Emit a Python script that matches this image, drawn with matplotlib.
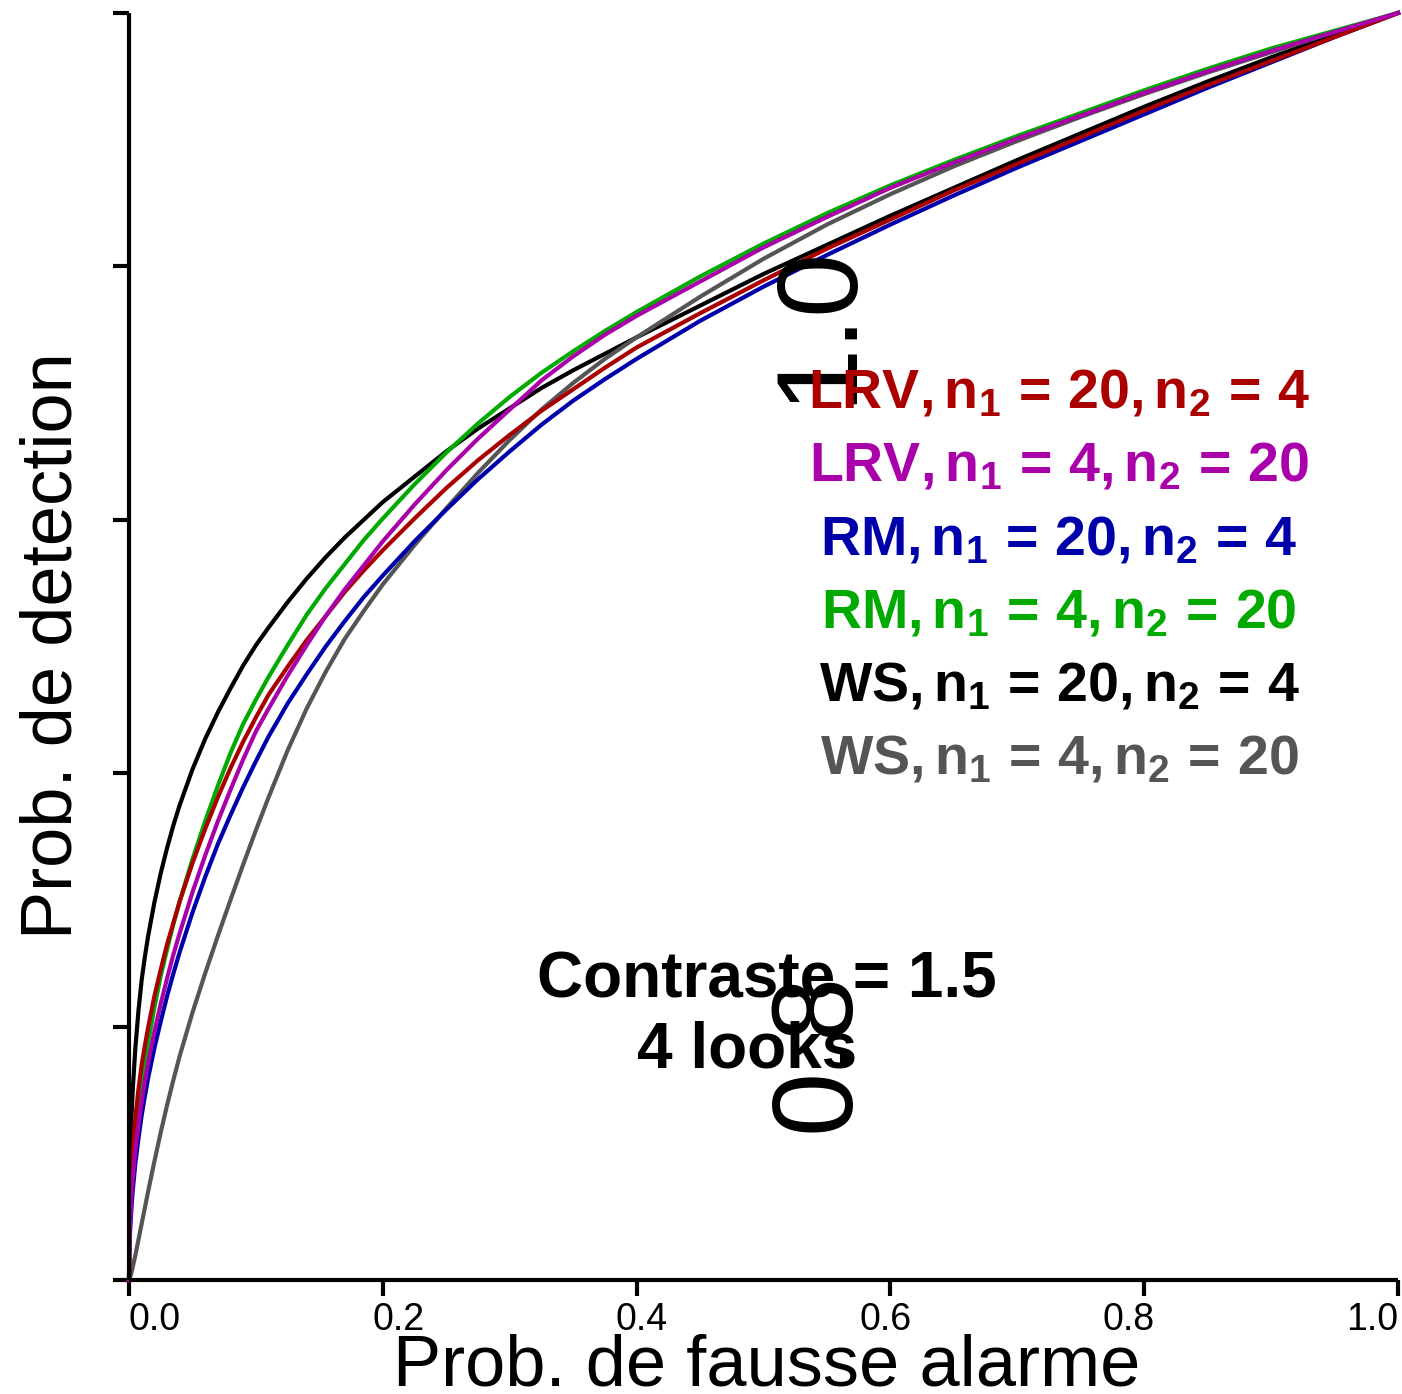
import matplotlib
matplotlib.use("Agg")
import matplotlib.pyplot as plt
from matplotlib.transforms import offset_copy, blended_transform_factory

plt.rcParams['font.family'] = ['Liberation Sans', 'DejaVu Sans']
plt.rcParams['mathtext.fontset'] = 'custom'
plt.rcParams['mathtext.rm'] = 'Liberation Sans'
plt.rcParams['mathtext.bf'] = 'Liberation Sans:bold'
plt.rcParams['mathtext.it'] = 'Liberation Sans:italic'
plt.rcParams['mathtext.default'] = 'bf'

# ------------------------------------------------------------
# Donnees (PFA commune, PD par methode)
# ------------------------------------------------------------
pfa = [0, 0.0005, 0.001, 0.002, 0.003, 0.005, 0.0075, 0.01,
       0.0125, 0.015, 0.02, 0.025, 0.03, 0.035, 0.04,
       0.05, 0.06, 0.07, 0.08, 0.09, 0.1,
       0.11, 0.125, 0.14, 0.155, 0.17, 0.185, 0.2,
       0.225, 0.25, 0.275, 0.3, 0.325, 0.35, 0.375, 0.4,
       0.45, 0.5, 0.55, 0.6, 0.65, 0.7, 0.75, 0.8, 0.85, 0.9, 0.95, 1.0]

pd_ws_20_4 = [0, 0.085, 0.105, 0.130, 0.151, 0.183, 0.213, 0.237,
              0.255, 0.271, 0.298, 0.321, 0.341, 0.359, 0.375,
              0.403, 0.427, 0.448, 0.467, 0.485, 0.501,
              0.515, 0.535, 0.5535, 0.5705, 0.586, 0.600, 0.614,
              0.634, 0.654, 0.672, 0.688, 0.704, 0.718, 0.731, 0.744,
              0.769, 0.794, 0.817, 0.840, 0.862, 0.884, 0.905, 0.926, 0.946, 0.965, 0.983, 1.0]
pd_ws_4_20 = [0, 0.0012, 0.0027, 0.006, 0.0105, 0.0195, 0.032, 0.0445,
              0.057, 0.0695, 0.0935, 0.1165, 0.138, 0.158, 0.177,
              0.211, 0.242, 0.2715, 0.300, 0.328, 0.355,
              0.381, 0.418, 0.451, 0.480, 0.506, 0.528, 0.549,
              0.580, 0.609, 0.637, 0.663, 0.687, 0.708, 0.727, 0.744,
              0.776, 0.806, 0.833, 0.857, 0.879, 0.899, 0.918, 0.936, 0.953, 0.969, 0.985, 1.0]
pd_rm_20_4 = [0, 0.029, 0.041, 0.058, 0.071, 0.092, 0.112, 0.130,
              0.145, 0.159, 0.183, 0.204, 0.224, 0.242, 0.259,
              0.290, 0.318, 0.344, 0.367, 0.389, 0.4095,
              0.429, 0.455, 0.478, 0.500, 0.520, 0.539, 0.556,
              0.583, 0.608, 0.632, 0.654, 0.675, 0.694, 0.711, 0.727,
              0.757, 0.784, 0.809, 0.833, 0.856, 0.878, 0.899, 0.920, 0.941, 0.961, 0.981, 1.0]
pd_rm_4_20 = [0, 0.044, 0.058, 0.077, 0.091, 0.113, 0.133, 0.153,
              0.171, 0.187, 0.215, 0.240, 0.261, 0.281, 0.299,
              0.332, 0.362, 0.390, 0.416, 0.439, 0.458,
              0.476, 0.501, 0.525, 0.546, 0.565, 0.584, 0.601,
              0.628, 0.653, 0.676, 0.697, 0.716, 0.733, 0.749, 0.764,
              0.792, 0.818, 0.842, 0.864, 0.884, 0.903, 0.921, 0.939, 0.956, 0.972, 0.986, 1.0]
pd_lrv_20_4 = [0, 0.042, 0.059, 0.082, 0.100, 0.128, 0.151, 0.170,
               0.185, 0.199, 0.224, 0.245, 0.265, 0.282, 0.299,
               0.329, 0.356, 0.381, 0.404, 0.425, 0.444,
               0.462, 0.484, 0.505, 0.524, 0.543, 0.560, 0.576,
               0.601, 0.625, 0.647, 0.667, 0.686, 0.703, 0.720, 0.736,
               0.763, 0.789, 0.814, 0.837, 0.860, 0.881, 0.902, 0.923, 0.943, 0.962, 0.981, 1.0]
pd_lrv_4_20 = [0, 0.035, 0.048, 0.067, 0.080, 0.102, 0.123, 0.141,
               0.157, 0.171, 0.196, 0.218, 0.238, 0.257, 0.274,
               0.306, 0.335, 0.362, 0.387, 0.411, 0.433,
               0.451, 0.477, 0.501, 0.524, 0.545, 0.564, 0.583,
               0.612, 0.639, 0.664, 0.687, 0.710, 0.729, 0.746, 0.761,
               0.788, 0.815, 0.839, 0.862, 0.882, 0.901, 0.919, 0.937, 0.954, 0.970, 0.985, 1.0]

# ordre de trace : WS, RM puis LRV par dessus
courbes = [pd_ws_20_4, pd_ws_4_20, pd_rm_20_4, pd_rm_4_20, pd_lrv_20_4, pd_lrv_4_20]
couleurs = ['black', '#555555', '#0000AA', '#00AA00', '#AA0000', '#AA00AA']

legendes = [r'$LRV, n_{1}\,=\,20, n_{2}\,=\,4$',
            r'$LRV, n_{1}\,=\,4, n_{2}\,=\,20$',
            r'$RM, n_{1}\,=\,20, n_{2}\,=\,4$',
            r'$RM, n_{1}\,=\,4, n_{2}\,=\,20$',
            r'$WS, n_{1}\,=\,20, n_{2}\,=\,4$',
            r'$WS, n_{1}\,=\,4, n_{2}\,=\,20$']
couleurs_legende = ['#AA0000', '#AA00AA', '#0000AA', '#00AA00', 'black', '#555555']

xticks = [0.0, 0.2, 0.4, 0.6, 0.8, 1.0]
xtick_labels = ['0.0', '0.2', '0.4', '0.6', '0.8', '1.0']
yticks = [0.0, 0.2, 0.4, 0.6, 0.8, 1.0]
ytick_labels_visibles = ['1.0', '0.8']

W, H = 1402, 1394


def fx(px):
    return px / W


def fy(py):
    return 1 - py / H


fig = plt.figure(figsize=(W / 100, H / 100), dpi=100)
ax = fig.add_axes([fx(129), fy(1280), fx(1398) - fx(129), fy(13) - fy(1280)])

for y, c in zip(courbes, couleurs):
    ax.plot(pfa, y, color=c, lw=3, clip_on=False, solid_joinstyle='round')

ax.set_xlim(0, 1)
ax.set_ylim(0, 1)
for s in ['top', 'right']:
    ax.spines[s].set_visible(False)
for s in ['left', 'bottom']:
    ax.spines[s].set_linewidth(3)
    ax.spines[s].set_capstyle('butt')

ax.set_xticks(xticks)
ax.set_yticks(yticks)
ax.set_xticklabels([])
ax.set_yticklabels([])
ax.tick_params(axis='both', direction='out', length=11.5, width=3)

# etiquettes de l'axe x, decalees progressivement (gauche -> droite)
largeur = 1.39 * 27  # largeur de "0.0" en points
base_x = blended_transform_factory(ax.transData, fig.transFigure)
for i, (t, lab) in enumerate(zip(xticks, xtick_labels)):
    tr = offset_copy(base_x, fig=fig, x=-largeur * i / 5, y=0, units='points')
    ax.text(t, fy(1330), lab, transform=tr, ha='left', va='baseline', fontsize=27)

# etiquettes y (mal placees dans l'original)
fig.text(fx(849), fy(404), ytick_labels_visibles[0], rotation=90, rotation_mode='anchor',
         ha='left', va='baseline', fontsize=83)
fig.text(fx(849), fy(1132), ytick_labels_visibles[1], rotation=90, rotation_mode='anchor',
         ha='left', va='baseline', fontsize=83)

fig.text(fx(767), fy(1385), 'Prob. de fausse alarme', ha='center', va='baseline', fontsize=52)
fig.text(fx(72), fy(646), 'Prob. de detection', rotation=90, rotation_mode='anchor',
         ha='center', va='baseline', fontsize=52)

bases = [408, 481.5, 555, 628, 701, 774]
for lab, c, b in zip(legendes, couleurs_legende, bases):
    fig.text(fx(1059), fy(b), lab, color=c, ha='center', va='baseline', fontsize=40)

fig.text(fx(767), fy(997), 'Contraste = 1.5', ha='center', va='baseline', fontsize=46, fontweight='bold')
fig.text(fx(747), fy(1068), '4 looks', ha='center', va='baseline', fontsize=46, fontweight='bold')

fig.savefig('out.png', dpi=100, facecolor='white')
